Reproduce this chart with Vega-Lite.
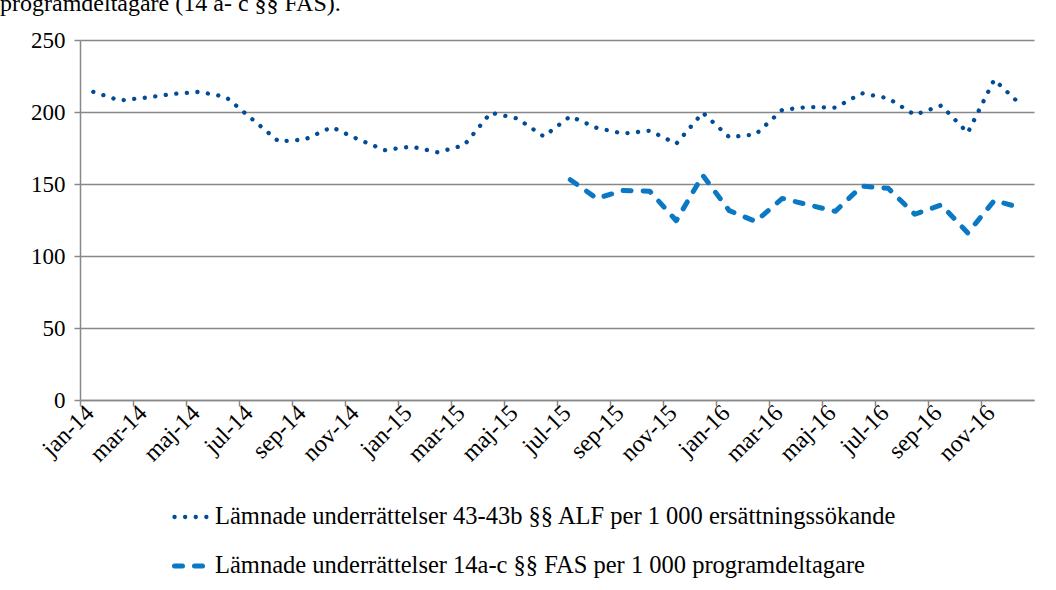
{
  "$schema": "https://vega.github.io/schema/vega-lite/v6.json",
  "width": 954,
  "height": 360,
  "autosize": {"type": "none"},
  "padding": {"left": 80, "top": 40, "right": 22, "bottom": 190},
  "background": "white",
  "title": {
    "text": "programdeltagare (14 a- c §§ FAS).",
    "anchor": "start",
    "frame": "group",
    "dx": -80,
    "dy": 21,
    "font": "Liberation Serif",
    "fontSize": 24,
    "fontWeight": "normal",
    "color": "black",
    "baseline": "bottom",
    "offset": 10
  },
  "data": {
    "values": [
      {"month": "jan-14", "series": "Lämnade underrättelser 43-43b §§ ALF per 1 000 ersättningssökande", "value": 214},
      {"month": "feb-14", "series": "Lämnade underrättelser 43-43b §§ ALF per 1 000 ersättningssökande", "value": 208},
      {"month": "mar-14", "series": "Lämnade underrättelser 43-43b §§ ALF per 1 000 ersättningssökande", "value": 210},
      {"month": "apr-14", "series": "Lämnade underrättelser 43-43b §§ ALF per 1 000 ersättningssökande", "value": 212.5},
      {"month": "maj-14", "series": "Lämnade underrättelser 43-43b §§ ALF per 1 000 ersättningssökande", "value": 214},
      {"month": "jun-14", "series": "Lämnade underrättelser 43-43b §§ ALF per 1 000 ersättningssökande", "value": 210.5},
      {"month": "jul-14", "series": "Lämnade underrättelser 43-43b §§ ALF per 1 000 ersättningssökande", "value": 195},
      {"month": "aug-14", "series": "Lämnade underrättelser 43-43b §§ ALF per 1 000 ersättningssökande", "value": 179.5},
      {"month": "sep-14", "series": "Lämnade underrättelser 43-43b §§ ALF per 1 000 ersättningssökande", "value": 181},
      {"month": "okt-14", "series": "Lämnade underrättelser 43-43b §§ ALF per 1 000 ersättningssökande", "value": 189.5},
      {"month": "nov-14", "series": "Lämnade underrättelser 43-43b §§ ALF per 1 000 ersättningssökande", "value": 181},
      {"month": "dec-14", "series": "Lämnade underrättelser 43-43b §§ ALF per 1 000 ersättningssökande", "value": 173.5},
      {"month": "jan-15", "series": "Lämnade underrättelser 43-43b §§ ALF per 1 000 ersättningssökande", "value": 176},
      {"month": "feb-15", "series": "Lämnade underrättelser 43-43b §§ ALF per 1 000 ersättningssökande", "value": 172},
      {"month": "mar-15", "series": "Lämnade underrättelser 43-43b §§ ALF per 1 000 ersättningssökande", "value": 177},
      {"month": "apr-15", "series": "Lämnade underrättelser 43-43b §§ ALF per 1 000 ersättningssökande", "value": 199.5},
      {"month": "maj-15", "series": "Lämnade underrättelser 43-43b §§ ALF per 1 000 ersättningssökande", "value": 195.5},
      {"month": "jun-15", "series": "Lämnade underrättelser 43-43b §§ ALF per 1 000 ersättningssökande", "value": 183},
      {"month": "jul-15", "series": "Lämnade underrättelser 43-43b §§ ALF per 1 000 ersättningssökande", "value": 197},
      {"month": "aug-15", "series": "Lämnade underrättelser 43-43b §§ ALF per 1 000 ersättningssökande", "value": 189},
      {"month": "sep-15", "series": "Lämnade underrättelser 43-43b §§ ALF per 1 000 ersättningssökande", "value": 185},
      {"month": "okt-15", "series": "Lämnade underrättelser 43-43b §§ ALF per 1 000 ersättningssökande", "value": 187},
      {"month": "nov-15", "series": "Lämnade underrättelser 43-43b §§ ALF per 1 000 ersättningssökande", "value": 178},
      {"month": "dec-15", "series": "Lämnade underrättelser 43-43b §§ ALF per 1 000 ersättningssökande", "value": 199.5},
      {"month": "jan-16", "series": "Lämnade underrättelser 43-43b §§ ALF per 1 000 ersättningssökande", "value": 182.5},
      {"month": "feb-16", "series": "Lämnade underrättelser 43-43b §§ ALF per 1 000 ersättningssökande", "value": 184.5},
      {"month": "mar-16", "series": "Lämnade underrättelser 43-43b §§ ALF per 1 000 ersättningssökande", "value": 201.5},
      {"month": "apr-16", "series": "Lämnade underrättelser 43-43b §§ ALF per 1 000 ersättningssökande", "value": 203.5},
      {"month": "maj-16", "series": "Lämnade underrättelser 43-43b §§ ALF per 1 000 ersättningssökande", "value": 203},
      {"month": "jun-16", "series": "Lämnade underrättelser 43-43b §§ ALF per 1 000 ersättningssökande", "value": 213},
      {"month": "jul-16", "series": "Lämnade underrättelser 43-43b §§ ALF per 1 000 ersättningssökande", "value": 209.5},
      {"month": "aug-16", "series": "Lämnade underrättelser 43-43b §§ ALF per 1 000 ersättningssökande", "value": 198},
      {"month": "sep-16", "series": "Lämnade underrättelser 43-43b §§ ALF per 1 000 ersättningssökande", "value": 204.5},
      {"month": "okt-16", "series": "Lämnade underrättelser 43-43b §§ ALF per 1 000 ersättningssökande", "value": 185.5},
      {"month": "nov-16", "series": "Lämnade underrättelser 43-43b §§ ALF per 1 000 ersättningssökande", "value": 222.5},
      {"month": "dec-16", "series": "Lämnade underrättelser 43-43b §§ ALF per 1 000 ersättningssökande", "value": 205},
      {"month": "jul-15", "series": "Lämnade underrättelser 14a-c §§ FAS per 1 000 programdeltagare", "value": 153},
      {"month": "aug-15", "series": "Lämnade underrättelser 14a-c §§ FAS per 1 000 programdeltagare", "value": 140},
      {"month": "sep-15", "series": "Lämnade underrättelser 14a-c §§ FAS per 1 000 programdeltagare", "value": 145.5},
      {"month": "okt-15", "series": "Lämnade underrättelser 14a-c §§ FAS per 1 000 programdeltagare", "value": 145},
      {"month": "nov-15", "series": "Lämnade underrättelser 14a-c §§ FAS per 1 000 programdeltagare", "value": 124.5},
      {"month": "dec-15", "series": "Lämnade underrättelser 14a-c §§ FAS per 1 000 programdeltagare", "value": 156},
      {"month": "jan-16", "series": "Lämnade underrättelser 14a-c §§ FAS per 1 000 programdeltagare", "value": 131.5},
      {"month": "feb-16", "series": "Lämnade underrättelser 14a-c §§ FAS per 1 000 programdeltagare", "value": 124},
      {"month": "mar-16", "series": "Lämnade underrättelser 14a-c §§ FAS per 1 000 programdeltagare", "value": 140},
      {"month": "apr-16", "series": "Lämnade underrättelser 14a-c §§ FAS per 1 000 programdeltagare", "value": 135.5},
      {"month": "maj-16", "series": "Lämnade underrättelser 14a-c §§ FAS per 1 000 programdeltagare", "value": 131},
      {"month": "jun-16", "series": "Lämnade underrättelser 14a-c §§ FAS per 1 000 programdeltagare", "value": 148.5},
      {"month": "jul-16", "series": "Lämnade underrättelser 14a-c §§ FAS per 1 000 programdeltagare", "value": 147},
      {"month": "aug-16", "series": "Lämnade underrättelser 14a-c §§ FAS per 1 000 programdeltagare", "value": 129},
      {"month": "sep-16", "series": "Lämnade underrättelser 14a-c §§ FAS per 1 000 programdeltagare", "value": 135.5},
      {"month": "okt-16", "series": "Lämnade underrättelser 14a-c §§ FAS per 1 000 programdeltagare", "value": 116},
      {"month": "nov-16", "series": "Lämnade underrättelser 14a-c §§ FAS per 1 000 programdeltagare", "value": 138.5},
      {"month": "dec-16", "series": "Lämnade underrättelser 14a-c §§ FAS per 1 000 programdeltagare", "value": 133.5}
    ]
  },
  "mark": {"type": "line", "strokeCap": "round", "strokeJoin": "round"},
  "encoding": {
    "x": {
      "field": "month",
      "type": "nominal",
      "scale": {
        "type": "band",
        "paddingInner": 0,
        "paddingOuter": 0,
        "domain": ["jan-14","feb-14","mar-14","apr-14","maj-14","jun-14","jul-14","aug-14","sep-14","okt-14","nov-14","dec-14","jan-15","feb-15","mar-15","apr-15","maj-15","jun-15","jul-15","aug-15","sep-15","okt-15","nov-15","dec-15","jan-16","feb-16","mar-16","apr-16","maj-16","jun-16","jul-16","aug-16","sep-16","okt-16","nov-16","dec-16"]
      },
      "axis": {
        "values": ["jan-14","mar-14","maj-14","jul-14","sep-14","nov-14","jan-15","mar-15","maj-15","jul-15","sep-15","nov-15","jan-16","mar-16","maj-16","jul-16","sep-16","nov-16"],
        "bandPosition": 0,
        "labelOffset": -3,
        "labelAngle": -45,
        "labelAlign": "right",
        "labelBaseline": "middle",
        "labelFont": "Liberation Serif",
        "labelFontSize": 24,
        "labelColor": "black",
        "labelPadding": 3,
        "tickColor": "#888888",
        "tickWidth": 1.5,
        "tickSize": 6,
        "domainColor": "#888888",
        "domainWidth": 1.5,
        "grid": false,
        "title": null
      }
    },
    "y": {
      "field": "value",
      "type": "quantitative",
      "scale": {"domain": [0, 250]},
      "axis": {
        "values": [0, 50, 100, 150, 200, 250],
        "grid": true,
        "gridColor": "#888888",
        "gridWidth": 1.5,
        "domainColor": "#888888",
        "domainWidth": 1.5,
        "tickColor": "#888888",
        "tickWidth": 1.5,
        "tickSize": 6,
        "labelFont": "Liberation Serif",
        "labelFontSize": 23,
        "labelColor": "black",
        "labelPadding": 9,
        "title": null
      }
    },
    "color": {
      "field": "series",
      "type": "nominal",
      "scale": {
        "domain": ["Lämnade underrättelser 43-43b §§ ALF per 1 000 ersättningssökande", "Lämnade underrättelser 14a-c §§ FAS per 1 000 programdeltagare"],
        "range": ["#004C97", "#0A78C3"]
      },
      "legend": {
        "orient": "none",
        "legendX": 92,
        "legendY": 458,
        "direction": "vertical",
        "title": null,
        "symbolType": "stroke",
        "symbolSize": 1089,
        "symbolStrokeWidth": 4.5,
        "labelFont": "Liberation Serif",
        "labelFontSize": 24.5,
        "labelColor": "black",
        "labelLimit": 0,
        "labelOffset": 5,
        "rowPadding": 18,
        "encode": {
          "symbols": {
            "update": {
              "strokeCap": {"value": "round"},
              "strokeDash": [
                {"test": "indexof(datum.value, 'ALF') >= 0", "value": [0.1, 5.4]},
                {"value": [4.5, 7]}
              ]
            }
          }
        }
      }
    },
    "strokeDash": {
      "field": "series",
      "type": "nominal",
      "scale": {
        "domain": ["Lämnade underrättelser 43-43b §§ ALF per 1 000 ersättningssökande", "Lämnade underrättelser 14a-c §§ FAS per 1 000 programdeltagare"],
        "range": [[0.1, 10.5], [8, 12]]
      }
    },
    "strokeWidth": {
      "field": "series",
      "type": "nominal",
      "scale": {
        "domain": ["Lämnade underrättelser 43-43b §§ ALF per 1 000 ersättningssökande", "Lämnade underrättelser 14a-c §§ FAS per 1 000 programdeltagare"],
        "range": [4.3, 5]
      },
      "legend": null
    }
  },
  "config": {
    "view": {"stroke": null}
  }
}
